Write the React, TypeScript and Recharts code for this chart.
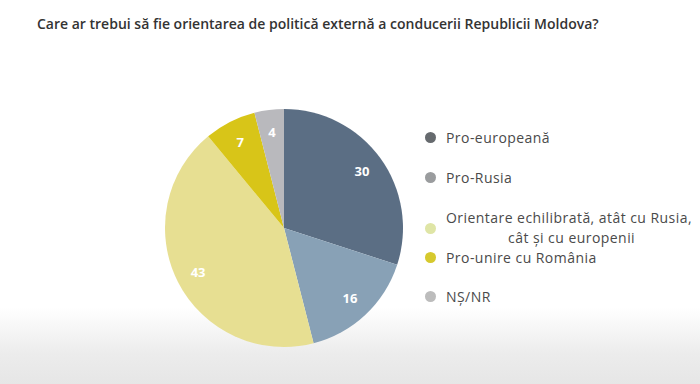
import { PieChart, Pie, Cell, Legend } from 'recharts';

const categories = [
  'Pro-europeană',
  'Pro-Rusia',
  'Orientare echilibrată, atât cu Rusia, cât și cu europenii',
  'Pro-unire cu România',
  'NȘ/NR',
];
const values = [30, 16, 43, 7, 4];
const sliceColors = ['#5b6e84', '#88a1b6', '#e7df92', '#d8c518', '#b9b9bd'];
const legendColors = ['#666a6e', '#9a9c9e', '#dfe5a6', '#d6c92e', '#bcbcbc'];

const data = categories.map((name, i) => ({ name, value: values[i] }));

const RAD = Math.PI / 180;

const renderLabel = (props: any) => {
  const { cx, cy, midAngle, outerRadius, value } = props;
  const r = outerRadius * 0.81;
  const x = cx + r * Math.cos(-midAngle * RAD);
  const y = cy + r * Math.sin(-midAngle * RAD);
  return (
    <text
      x={x}
      y={y}
      fill="#ffffff"
      textAnchor="middle"
      dominantBaseline="central"
      fontSize={13}
      fontWeight={700}
      fontFamily="'Open Sans', sans-serif"
    >
      {value}
    </text>
  );
};

const rowTops = [0, 40, 80, 120, 159];

function LegendContent() {
  return (
    <div
      style={{
        position: 'relative',
        width: 270,
        height: 180,
        fontFamily: "'Open Sans', sans-serif",
        fontSize: 14,
        letterSpacing: '0.45px',
        color: '#4a4a4a',
      }}
    >
      {categories.map((c, i) => {
        const wrapped = i === 2;
        return (
          <div key={c} style={{ position: 'absolute', left: 0, top: rowTops[i] }}>
            <span
              style={{
                position: 'absolute',
                left: 0,
                top: wrapped ? 15 : 4,
                width: 11,
                height: 11,
                borderRadius: '50%',
                background: legendColors[i],
              }}
            />
            <div style={{ marginLeft: 21, lineHeight: '20px', whiteSpace: 'nowrap' }}>
              {wrapped ? (
                <>
                  <div>Orientare echilibrată, atât cu Rusia,</div>
                  <div style={{ marginLeft: 62 }}>cât și cu europenii</div>
                </>
              ) : (
                <div>{c}</div>
              )}
            </div>
          </div>
        );
      })}
    </div>
  );
}

export default function App() {
  return (
    <div
      style={{
        position: 'absolute',
        left: 0,
        top: 0,
        width: 700,
        height: 384,
        background: 'linear-gradient(to bottom, #ffffff 0%, #ffffff 80%, #ececec 92%, #e6e6e6 100%)',
        overflow: 'hidden',
      }}
    >
      <div
        style={{
          position: 'absolute',
          left: 37,
          top: 14,
          fontFamily: "'Open Sans', sans-serif",
          fontSize: 14,
          fontWeight: 600,
          color: '#333',
          whiteSpace: 'nowrap',
        }}
      >
        Care ar trebui să fie orientarea de politică externă a conducerii Republicii Moldova?
      </div>
      <PieChart
        width={700}
        height={384}
        margin={{ top: 0, right: 0, bottom: 0, left: 0 }}
        style={{ position: 'absolute', left: 0, top: 0 }}
      >
        <Pie
          data={data}
          dataKey="value"
          nameKey="name"
          cx={284}
          cy={228}
          outerRadius={119}
          startAngle={90}
          endAngle={-270}
          stroke="none"
          label={renderLabel}
          labelLine={false}
          isAnimationActive={false}
        >
          {data.map((d, i) => (
            <Cell key={d.name} fill={sliceColors[i]} />
          ))}
        </Pie>
        <Legend
          content={() => <LegendContent />}
          wrapperStyle={{ position: 'absolute', left: 425, top: 128, width: 275 }}
        />
      </PieChart>
    </div>
  );
}
